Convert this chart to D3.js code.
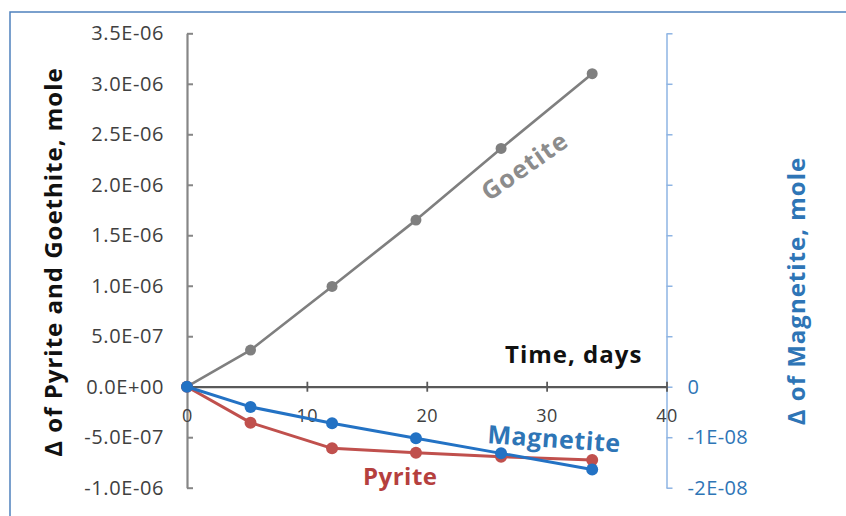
<!DOCTYPE html>
<html>
<head>
<meta charset="utf-8">
<script src="https://cdn.jsdelivr.net/npm/d3@7"></script>
<style>
  body { margin: 0; background: #fff; }
  svg { font-family: "Open Sans", sans-serif; }
</style>
</head>
<body>
<div id="chart"></div>
<script>
// data
const days = [0, 5.3, 12.1, 19.1, 26.2, 33.8];
const goethite = [0, 0.363e-6, 0.993e-6, 1.65e-6, 2.36e-6, 3.10e-6];
const pyrite = [0, -0.356e-6, -0.61e-6, -0.653e-6, -0.693e-6, -0.726e-6];
const magnetite = [0, -0.40e-8, -0.725e-8, -1.02e-8, -1.32e-8, -1.64e-8];

const xTicks = [0, 10, 20, 30, 40];
const leftTicks = [-1e-6, -0.5e-6, 0, 0.5e-6, 1e-6, 1.5e-6, 2e-6, 2.5e-6, 3e-6, 3.5e-6];
const leftTickLabels = ["-1.0E-06", "-5.0E-07", "0.0E+00", "5.0E-07", "1.0E-06",
                        "1.5E-06", "2.0E-06", "2.5E-06", "3.0E-06", "3.5E-06"];
const rightTicks = [-2e-8, -1e-8, 0, 1e-8, 2e-8, 3e-8, 4e-8, 5e-8, 6e-8, 7e-8];
const rightTickLabels = ["-2E-08", "-1E-08", "0", "", "", "", "", "", "", ""];

const width = 846, height = 516;
const grey = "#7f7f7f", red = "#c0504d", blue = "#2372c4";

const svg = d3.select("#chart")
    .append("svg")
    .attr("width", width)
    .attr("height", height);

// chart area border (only top and left visible)
svg.append("rect")
    .attr("x", 10)
    .attr("y", 12)
    .attr("width", 900)
    .attr("height", 600)
    .attr("fill", "none")
    .attr("stroke", "#4f81bd")
    .attr("stroke-width", 1.5);

// Scales
const xScale = d3.scaleLinear().domain([0, 40]).range([187, 666.5]);
const yLeft = d3.scaleLinear().domain([-1e-6, 3.5e-6]).range([487.7, 33.3]);
const yRight = d3.scaleLinear().domain([-2e-8, 7e-8]).range([487.7, 33.3]);

// Left axis: ticks point inward, labels on the left
const leftAxis = svg.append("g")
    .attr("transform", `translate(${xScale(0)},0)`)
    .call(d3.axisLeft(yLeft)
        .tickValues(leftTicks)
        .tickFormat((d, i) => leftTickLabels[i])
        .tickSize(-6)
        .tickSizeOuter(0)
        .tickPadding(23));
leftAxis.select(".domain").attr("stroke", "#868686").attr("stroke-width", 2.2);
leftAxis.selectAll(".tick line").attr("stroke", "#868686").attr("stroke-width", 2);
leftAxis.selectAll(".tick text")
    .attr("font-size", 20)
    .attr("letter-spacing", 0.6)
    .attr("fill", "#404040")
    .attr("font-family", "Open Sans");

// Right axis
const rightAxis = svg.append("g")
    .attr("transform", `translate(${xScale(40)},0)`)
    .call(d3.axisRight(yRight)
        .tickValues(rightTicks)
        .tickFormat((d, i) => rightTickLabels[i])
        .tickSize(6)
        .tickSizeOuter(0)
        .tickPadding(15));
rightAxis.select(".domain").attr("stroke", "#8eb4e3").attr("stroke-width", 1.5);
rightAxis.selectAll(".tick line").attr("stroke", "#8eb4e3").attr("stroke-width", 1.5);
rightAxis.selectAll(".tick text")
    .attr("font-size", 20)
    .attr("letter-spacing", 0.4)
    .attr("fill", "#2e75b6")
    .attr("font-family", "Open Sans");

// X axis at y = 0, cross ticks, labels below
const xAxis = svg.append("g")
    .attr("transform", `translate(0,${yLeft(0)})`)
    .call(d3.axisBottom(xScale)
        .tickValues(xTicks)
        .tickSize(5)
        .tickSizeOuter(0)
        .tickPadding(18));
xAxis.select(".domain").attr("stroke", "#595959").attr("stroke-width", 2.2);
xAxis.selectAll(".tick line").attr("y1", -5).attr("stroke", "#595959").attr("stroke-width", 1.8);
xAxis.selectAll(".tick text")
    .attr("font-size", 18)
    .attr("letter-spacing", 0.5)
    .attr("fill", "#404040")
    .attr("font-family", "Open Sans");

// Series
function drawSeries(values, yScale, color, lw, r) {
    const pts = days.map((d, i) => [d, values[i]]);
    const line = d3.line()
        .x(d => xScale(d[0]))
        .y(d => yScale(d[1]));
    svg.append("path")
        .datum(pts)
        .attr("fill", "none")
        .attr("stroke", color)
        .attr("stroke-width", lw)
        .attr("stroke-linejoin", "round")
        .attr("d", line);
    svg.append("g")
        .selectAll("circle")
        .data(pts)
        .enter()
        .append("circle")
            .attr("cx", d => xScale(d[0]))
            .attr("cy", d => yScale(d[1]))
            .attr("r", r)
            .attr("fill", color);
}

drawSeries(goethite, yLeft, grey, 2.6, 5.5);
drawSeries(pyrite, yLeft, red, 3, 6);
drawSeries(magnetite, yRight, blue, 3, 6);

// Axis titles
svg.append("text")
    .attr("transform", "translate(62,262) rotate(-90)")
    .attr("text-anchor", "middle")
    .attr("font-size", 24)
    .attr("font-weight", "bold")
    .attr("letter-spacing", 1)
    .attr("fill", "#111")
    .text("Δ of Pyrite and Goethite, mole");

svg.append("text")
    .attr("transform", "translate(805,291) rotate(-90)")
    .attr("text-anchor", "middle")
    .attr("font-size", 24)
    .attr("font-weight", "bold")
    .attr("letter-spacing", 1)
    .attr("fill", "#2e75b6")
    .text("Δ of Magnetite, mole");

svg.append("text")
    .attr("x", 505)
    .attr("y", 363)
    .attr("font-size", 24)
    .attr("font-weight", "bold")
    .attr("letter-spacing", 1)
    .attr("fill", "#111")
    .text("Time, days");

// Series labels
svg.append("text")
    .attr("transform", "translate(524,165) rotate(-35)")
    .attr("text-anchor", "middle")
    .attr("dominant-baseline", "central")
    .attr("font-size", 25)
    .attr("font-weight", "bold")
    .attr("letter-spacing", 1)
    .attr("fill", "#8c8c8c")
    .text("Goetite");

svg.append("text")
    .attr("transform", "translate(487,443) rotate(4)")
    .attr("font-size", 25)
    .attr("font-weight", "bold")
    .attr("letter-spacing", 0.6)
    .attr("fill", "#2e75b6")
    .text("Magnetite");

svg.append("text")
    .attr("x", 363)
    .attr("y", 485)
    .attr("font-size", 24)
    .attr("font-weight", "bold")
    .attr("letter-spacing", 0.5)
    .attr("fill", "#b5403e")
    .text("Pyrite");
</script>
</body>
</html>
